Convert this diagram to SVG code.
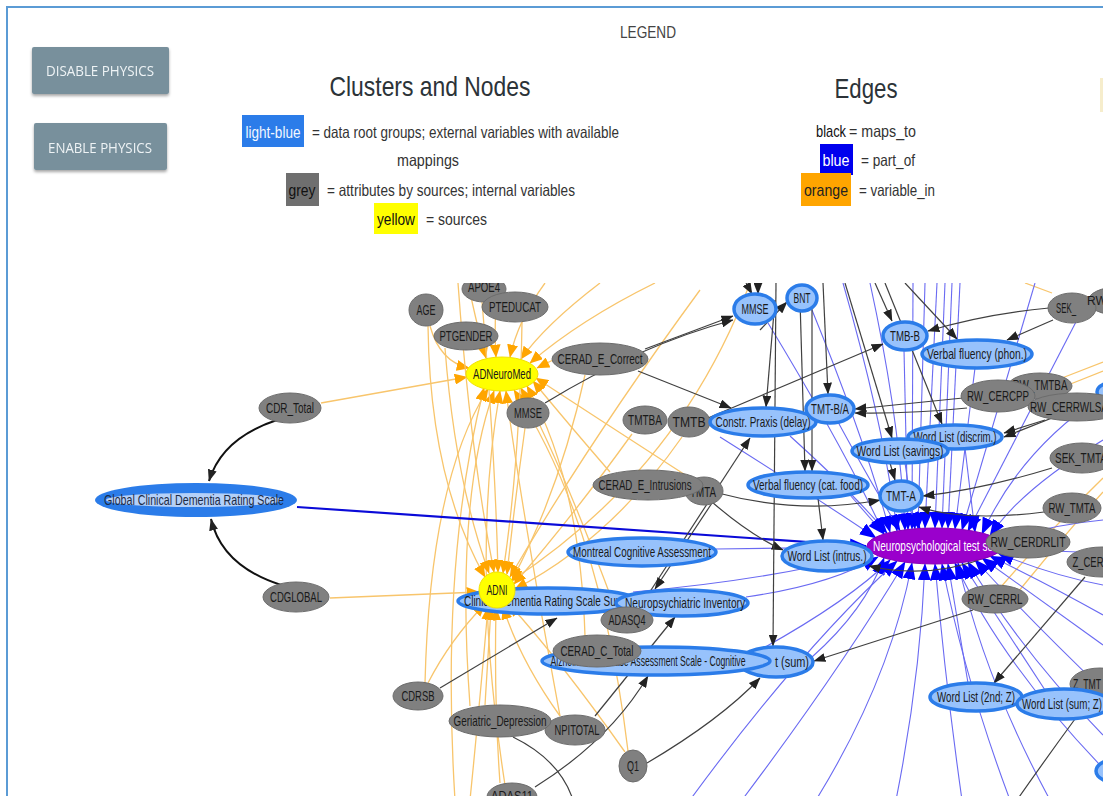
<svg xmlns="http://www.w3.org/2000/svg" width="1103" height="796" viewBox="0 0 1103 796">
<style>
  .ui{font-family:"Liberation Sans",Arial,sans-serif}
  .btn rect{fill:#78909c}
  .btn text{font-family:"Open Sans","Liberation Sans",sans-serif;font-size:14.5px;fill:#eef3f5;text-anchor:middle}
  .lg{font-family:"Liberation Sans",Arial,sans-serif;font-size:16.5px;fill:#333}
  .hd{font-family:"Liberation Sans",Arial,sans-serif;font-size:28px;fill:#2c3338;text-anchor:middle}
  .eo path{fill:none;stroke:#f8c56c;stroke-width:1.3;marker-end:url(#ao)}
  .eo path.na{marker-end:none}
  .eb path{fill:none;stroke:#6a6af2;stroke-width:1.1;marker-end:url(#ab)}
  .eb path.big{stroke:#0a0ad8;stroke-width:2.2}
  .ek path{fill:none;stroke:#404040;stroke-width:1.2;marker-end:url(#ak)}
  .ek path.na{marker-end:none}
  .ek path.th{stroke:#111;stroke-width:2}
  .nd text{font-family:"Liberation Sans",Arial,sans-serif;font-size:14.5px;fill:#1a1a1a;text-anchor:middle}
  .g ellipse{fill:#808080;stroke:#6c6c6c;stroke-width:1}
  .b ellipse{fill:#97c2fc;stroke:#2b7ce9;stroke-width:3.5}
  .y ellipse,.y circle{fill:#ffff00;stroke:#f2e200;stroke-width:1}
  .p ellipse{fill:#9a00cc;stroke:#8a00b8;stroke-width:1}
  .p text{fill:#ffffff}
</style>
<defs>
  <clipPath id="cv"><rect x="8" y="283" width="1095" height="513"/></clipPath>
  <filter id="sh" x="-10%" y="-10%" width="120%" height="130%">
    <feDropShadow dx="0" dy="2" stdDeviation="1.5" flood-color="#000" flood-opacity="0.35"/>
  </filter>
  <marker id="ak" viewBox="0 0 10 10" refX="9.5" refY="5" markerWidth="12" markerHeight="9" markerUnits="userSpaceOnUse" orient="auto" preserveAspectRatio="none"><path d="M0,0 L10,5 L0,10 z" fill="#222"/></marker>
  <marker id="ao" viewBox="0 0 10 10" refX="9.5" refY="5" markerWidth="13" markerHeight="11" markerUnits="userSpaceOnUse" orient="auto" preserveAspectRatio="none"><path d="M0,0 L10,5 L0,10 z" fill="#ffa500"/></marker>
  <marker id="ab" viewBox="0 0 10 10" refX="9.5" refY="5" markerWidth="17" markerHeight="13" markerUnits="userSpaceOnUse" orient="auto" preserveAspectRatio="none"><path d="M0,0 L10,5 L0,10 z" fill="#0000ff"/></marker>
</defs>

<rect width="1103" height="796" fill="#ffffff"/>
<!-- page frame -->
<path d="M7,796 L7,7 L1103,7" fill="none" stroke="#5b9bd5" stroke-width="2"/>

<!-- physics buttons -->
<g id="btn-disable" class="btn" filter="url(#sh)">
  <rect x="32" y="47" width="137" height="47" rx="2"/>
  <text x="100" y="76" textLength="108" lengthAdjust="spacingAndGlyphs">DISABLE PHYSICS</text>
</g>
<g id="btn-enable" class="btn" filter="url(#sh)">
  <rect x="34" y="123" width="133" height="47" rx="2"/>
  <text x="100" y="153" textLength="104" lengthAdjust="spacingAndGlyphs">ENABLE PHYSICS</text>
</g>

<!-- legend -->
<g id="legend">
  <text class="lg" x="648" y="38" text-anchor="middle" style="fill:#444;font-size:16px" textLength="56" lengthAdjust="spacingAndGlyphs">LEGEND</text>
  <text class="hd" x="430" y="96" textLength="201" lengthAdjust="spacingAndGlyphs">Clusters and Nodes</text>
  <rect x="242" y="115" width="62" height="32" fill="#2b7ce9"/>
  <text class="lg" x="273" y="138" text-anchor="middle" style="fill:#f2f7ff;font-size:17px" textLength="55" lengthAdjust="spacingAndGlyphs">light-blue</text>
  <text class="lg" x="312" y="138" textLength="307" lengthAdjust="spacingAndGlyphs">= data root groups; external variables with available</text>
  <text class="lg" x="428" y="166" text-anchor="middle" textLength="62" lengthAdjust="spacingAndGlyphs">mappings</text>
  <rect x="286" y="173" width="33" height="33" fill="#6f6f6f"/>
  <text class="lg" x="302" y="196" text-anchor="middle" style="fill:#111;font-size:17px" textLength="27" lengthAdjust="spacingAndGlyphs">grey</text>
  <text class="lg" x="327" y="196" textLength="248" lengthAdjust="spacingAndGlyphs">= attributes by sources; internal variables</text>
  <rect x="374" y="203" width="44" height="31" fill="#ffff00"/>
  <text class="lg" x="396" y="225" text-anchor="middle" style="fill:#111;font-size:17px" textLength="38" lengthAdjust="spacingAndGlyphs">yellow</text>
  <text class="lg" x="426" y="225" textLength="61" lengthAdjust="spacingAndGlyphs">= sources</text>

  <text class="hd" x="866" y="98" textLength="63" lengthAdjust="spacingAndGlyphs">Edges</text>
  <text class="lg" x="816" y="137" style="fill:#111;font-size:17px" textLength="30" lengthAdjust="spacingAndGlyphs">black</text>
  <text class="lg" x="849" y="137" textLength="67" lengthAdjust="spacingAndGlyphs">= maps_to</text>
  <rect x="820" y="144" width="33" height="31" fill="#0000ee"/>
  <text class="lg" x="836" y="166" text-anchor="middle" style="fill:#ffffff;font-size:17px" textLength="27" lengthAdjust="spacingAndGlyphs">blue</text>
  <text class="lg" x="861" y="166" textLength="54" lengthAdjust="spacingAndGlyphs">= part_of</text>
  <rect x="801" y="173" width="50" height="33" fill="#ffa500"/>
  <text class="lg" x="826" y="196" text-anchor="middle" style="fill:#222;font-size:17px" textLength="44" lengthAdjust="spacingAndGlyphs">orange</text>
  <text class="lg" x="859" y="196" textLength="76" lengthAdjust="spacingAndGlyphs">= variable_in</text>
  <rect x="1100" y="78" width="3" height="34" fill="#f6edcc"/>
</g>

<g id="graph" clip-path="url(#cv)">
<g id="connectors">
  <g id="variable_in" class="eo">
    <path d="M321,403 L467,377"/>
    <path d="M430,326 Q440,362 469,368"/>
    <path d="M468,283 Q478,330 486,358"/>
    <path d="M497,283 Q494,330 496,357"/>
    <path d="M545,283 Q518,320 510,357"/>
    <path d="M600,283 Q545,325 521,359"/>
    <path d="M655,283 Q580,320 530,363"/>
    <path d="M553,360 L537,368"/>
    <path d="M455,800 Q440,560 484,388"/>
    <path d="M425,683 Q430,480 488,389"/>
    <path d="M470,706 Q455,500 494,391"/>
    <path d="M505,785 Q470,560 500,391"/>
    <path d="M560,716 Q520,500 506,391"/>
    <path d="M628,751 Q600,520 514,390"/>
    <path d="M615,608 Q560,460 521,388"/>
    <path d="M585,636 Q580,480 527,386"/>
    <path d="M610,472 Q565,420 533,381"/>
    <path d="M690,478 Q600,420 536,378"/>
    <path d="M428,326 Q430,480 485,577"/>
    <path d="M445,348 Q455,480 489,573"/>
    <path d="M458,283 Q470,450 494,572"/>
    <path d="M482,302 Q495,450 498,572"/>
    <path d="M522,322 Q520,460 503,573"/>
    <path d="M525,428 Q515,500 507,574"/>
    <path d="M700,290 Q590,440 510,577"/>
    <path d="M585,375 Q560,490 512,580"/>
    <path d="M632,434 Q570,520 514,584"/>
    <path d="M682,437 Q610,540 515,589"/>
    <path d="M330,598 L479,592"/>
    <path d="M750,283 Q680,470 511,581"/>
    <path d="M428,683 Q450,640 485,604"/>
    <path d="M485,705 Q488,660 491,608"/>
    <path d="M500,783 Q494,700 496,608"/>
    <path d="M560,716 Q520,660 503,607"/>
    <path d="M625,752 Q560,660 509,604"/>
    <path d="M470,800 Q480,700 488,607"/>
    <path class="na" d="M1025,283 L1052,293"/>
    <path class="na" d="M1062,378 L1103,362"/>
    <path class="na" d="M1068,385 L1103,371"/>
    <path class="na" d="M1000,588 Q1050,530 1103,478"/>
    <path class="na" d="M1018,592 Q1060,540 1103,492"/>
  </g>
  <g id="part_of" class="eb">
    <path d="M768,323 Q845,450 884,534"/>
    <path d="M812,310 Q865,440 890,532"/>
    <path d="M843,283 Q885,430 897,531"/>
    <path d="M870,283 Q900,420 905,530"/>
    <path d="M904,350 L908,529.5"/>
    <path d="M913,283 L912,529"/>
    <path d="M925,283 L918,529"/>
    <path d="M937,283 L925,528"/>
    <path d="M945,283 L935,528"/>
    <path d="M952,283 L942,528"/>
    <path d="M960,283 L948,528"/>
    <path d="M975,368 L955,529"/>
    <path d="M1035,283 L962,530"/>
    <path d="M1078,318 L968,531"/>
    <path d="M965,448 L975,532"/>
    <path d="M905,463 L915,528.8"/>
    <path d="M838,422 Q875,490 900,530.5"/>
    <path d="M790,436 Q850,490 887,533"/>
    <path d="M850,495 L884,534"/>
    <path d="M910,510 L920,528.5"/>
    <path d="M1103,395 Q1020,450 982,534"/>
    <path d="M720,437 Q820,500 876,538"/>
    <path d="M1103,440 Q1020,490 990,536"/>
    <path d="M716,549 L867,547"/>
    <path class="big" d="M297,507 Q600,528 866,546"/>
    <path d="M746,597 Q830,585 878,557"/>
    <path d="M633,592 Q770,580 872,553"/>
    <path d="M812,657 Q865,610 884,558"/>
    <path d="M760,650 Q850,600 890,560"/>
    <path d="M690,800 Q800,650 897,561"/>
    <path d="M742,800 Q840,670 905,562"/>
    <path d="M816,800 Q890,680 912,563"/>
    <path d="M896,800 Q920,680 925,564"/>
    <path d="M962,800 Q945,680 935,564"/>
    <path d="M1010,800 Q965,680 942,564"/>
    <path d="M968,683 L948,564"/>
    <path d="M1045,690 L962,563"/>
    <path d="M1103,735 Q1020,650 968,562"/>
    <path d="M1103,690 Q1030,620 975,560"/>
    <path d="M1103,645 Q1040,600 982,558"/>
    <path d="M1103,615 Q1050,585 990,556"/>
    <path d="M1100,765 Q1000,660 955,563"/>
    <path d="M1050,800 Q985,680 958,563"/>
    <path d="M1103,520 Q1050,525 1002,541"/>
    <path d="M1103,553 L1003,549"/>
    <path d="M1103,585 Q1050,575 998,553"/>
  </g>
  <g id="maps_to" class="ek">
    <path class="th" d="M277,420 Q222,438 209,481"/>
    <path class="th" d="M281,585 Q222,566 211,519"/>
    <path d="M645,349 L733,316"/>
    <path d="M545,403 Q640,345 733,320"/>
    <path d="M638,371 L731,408"/>
    <path d="M708,418 L883,344"/>
    <path d="M1049,308 Q985,314 928,331"/>
    <path d="M1053,320 L1007,340"/>
    <path d="M875,283 L892,321"/>
    <path d="M905,283 L957,339"/>
    <path d="M823,283 L828,394"/>
    <path d="M775,300 L766,407"/>
    <path d="M800,300 L805,471"/>
    <path d="M812,300 L812,471"/>
    <path d="M818,498 L823,540"/>
    <path d="M845,283 L892,438"/>
    <path d="M885,283 L942,424"/>
    <path d="M1045,420 L1004,433"/>
    <path d="M1062,414 L1004,437"/>
    <path d="M963,398 L855,409"/>
    <path d="M967,408 Q910,414 855,413"/>
    <path d="M1052,468 Q980,490 923,496"/>
    <path d="M1044,512 Q965,522 919,507"/>
    <path d="M718,493 Q800,515 880,500"/>
    <path d="M712,502 Q750,535 783,550"/>
    <path d="M890,463 L895,480"/>
    <path d="M990,556 Q930,580 869,566"/>
    <path d="M973,610 Q880,640 814,661"/>
    <path d="M1085,577 L994,683"/>
    <path class="na" d="M1075,719 Q1045,760 1017,800"/>
    <path d="M647,763 Q720,720 760,678"/>
    <path d="M595,716 L675,617"/>
    <path d="M535,787 Q610,740 648,676"/>
    <path d="M440,688 L557,618"/>
    <path class="na" d="M513,737 Q560,760 573,800"/>
    <path d="M640,607 L750,438"/>
    <path d="M712,503 L655,589"/>
    <path d="M776,283 L773,646"/>
    <path d="M746,283 L752,294"/>
    <path d="M758,283 L758,294"/>
    <path d="M760,330 L787,302"/>
  </g>
</g>

<g id="nodes">
  <!-- sources -->
  <g id="n-adneuromed" class="nd y"><ellipse cx="502" cy="374" rx="36" ry="17"/><text x="502" y="379" textLength="58" lengthAdjust="spacingAndGlyphs">ADNeuroMed</text></g>

  <!-- attributes, top left -->
  <g id="n-apoe4" class="nd g"><ellipse cx="484" cy="289" rx="22" ry="13"/><text x="484" y="292" textLength="32" lengthAdjust="spacingAndGlyphs">APOE4</text></g>
  <g id="n-pteducat" class="nd g"><ellipse cx="515" cy="307" rx="33" ry="15"/><text x="515" y="312" textLength="52" lengthAdjust="spacingAndGlyphs">PTEDUCAT</text></g>
  <g id="n-age" class="nd g"><ellipse cx="426" cy="310" rx="17" ry="16"/><text x="426" y="315" textLength="19" lengthAdjust="spacingAndGlyphs">AGE</text></g>
  <g id="n-ptgender" class="nd g"><ellipse cx="466" cy="336" rx="32" ry="14"/><text x="466" y="341" textLength="53" lengthAdjust="spacingAndGlyphs">PTGENDER</text></g>
  <g id="n-cerad-e-correct" class="nd g"><ellipse cx="600" cy="359" rx="48" ry="16"/><text x="600" y="364" textLength="85" lengthAdjust="spacingAndGlyphs">CERAD_E_Correct</text></g>
  <g id="n-mmse-attr" class="nd g"><ellipse cx="528" cy="413" rx="21" ry="15"/><text x="528" y="418" textLength="28" lengthAdjust="spacingAndGlyphs">MMSE</text></g>
  <g id="n-tmtba" class="nd g"><ellipse cx="645" cy="420" rx="22" ry="14"/><text x="645" y="425" textLength="34" lengthAdjust="spacingAndGlyphs">TMTBA</text></g>
  <g id="n-tmtb" class="nd g"><ellipse cx="689" cy="422" rx="21" ry="15"/><text x="689" y="427" textLength="33" lengthAdjust="spacingAndGlyphs">TMTB</text></g>

  <!-- global clinical dementia rating -->
  <g id="n-cdr-total" class="nd g"><ellipse cx="290" cy="408" rx="31" ry="15"/><text x="290" y="413" textLength="48" lengthAdjust="spacingAndGlyphs">CDR_Total</text></g>
  <g id="n-cdglobal" class="nd g"><ellipse cx="296" cy="597" rx="33" ry="15"/><text x="296" y="602" textLength="52" lengthAdjust="spacingAndGlyphs">CDGLOBAL</text></g>
  <g id="n-global-cdr" class="nd">
    <ellipse cx="196" cy="500" rx="101" ry="17" fill="#2b7ce9"/>
    <ellipse cx="194" cy="500" rx="88" ry="7" fill="#b4d0f8"/>
    <text x="194" y="505" style="fill:#1d2b45" textLength="180" lengthAdjust="spacingAndGlyphs">Global Clinical Dementia Rating Scale</text>
  </g>

  <!-- test battery -->
  <g id="n-mmse" class="nd b"><ellipse cx="755" cy="309" rx="21" ry="15"/><text x="755" y="314" textLength="27" lengthAdjust="spacingAndGlyphs">MMSE</text></g>
  <g id="n-bnt" class="nd b"><ellipse cx="802" cy="298" rx="15" ry="13"/><text x="802" y="303" textLength="17" lengthAdjust="spacingAndGlyphs">BNT</text></g>
  <g id="n-tmb-b" class="nd b"><ellipse cx="905" cy="336" rx="22" ry="14"/><text x="905" y="341" textLength="30" lengthAdjust="spacingAndGlyphs">TMB-B</text></g>
  <g id="n-vf-phon" class="nd b"><ellipse cx="977" cy="354" rx="55" ry="14"/><text x="977" y="359" textLength="100" lengthAdjust="spacingAndGlyphs">Verbal fluency (phon.)</text></g>
  <g id="n-rw-right" class="nd g"><ellipse cx="1118" cy="301" rx="30" ry="14"/></g>
  <g id="n-sek" class="nd g"><ellipse cx="1072" cy="308" rx="24" ry="15"/><text x="1066" y="313" textLength="20" lengthAdjust="spacingAndGlyphs">SEK_</text></g>
  <text class="ui" x="1087" y="305" font-size="12" fill="#1a1a1a">RW</text>
  <g id="n-blue-right" class="nd b"><ellipse cx="1125" cy="392" rx="28" ry="12"/></g>
  <g id="n-rw-tmtba" class="nd g"><ellipse cx="1040" cy="386" rx="32" ry="13"/><text x="1040" y="390" textLength="55" lengthAdjust="spacingAndGlyphs">RW_TMTBA</text></g>
  <g id="n-rw-cercpp" class="nd g"><ellipse cx="998" cy="396" rx="37" ry="16"/><text x="998" y="401" textLength="62" lengthAdjust="spacingAndGlyphs">RW_CERCPP</text></g>
  <g id="n-rw-cerrwlsa" class="nd g"><ellipse cx="1077" cy="407" rx="49" ry="14"/><text x="1069" y="412" textLength="78" lengthAdjust="spacingAndGlyphs">RW_CERRWLSA</text></g>
  <g id="n-wl-discrim" class="nd b"><ellipse cx="955" cy="437" rx="47" ry="12"/><text x="955" y="442" textLength="83" lengthAdjust="spacingAndGlyphs">Word List (discrim.)</text></g>
  <g id="n-wl-savings" class="nd b"><ellipse cx="900" cy="451" rx="48" ry="12"/><text x="900" y="456" textLength="87" lengthAdjust="spacingAndGlyphs">Word List (savings)</text></g>
  <g id="n-constr-praxis" class="nd b"><ellipse cx="763" cy="422" rx="53" ry="14"/><text x="763" y="427" textLength="95" lengthAdjust="spacingAndGlyphs">Constr. Praxis (delay)</text></g>
  <g id="n-tmt-ba" class="nd b"><ellipse cx="830" cy="409" rx="24" ry="14"/><text x="830" y="414" textLength="38" lengthAdjust="spacingAndGlyphs">TMT-B/A</text></g>
  <g id="n-sek-tmta" class="nd g"><ellipse cx="1082" cy="458" rx="32" ry="15"/><text x="1081" y="463" textLength="52" lengthAdjust="spacingAndGlyphs">SEK_TMTA</text></g>
  <g id="n-vf-cat" class="nd b"><ellipse cx="808" cy="485" rx="60" ry="13"/><text x="808" y="490" textLength="110" lengthAdjust="spacingAndGlyphs">Verbal fluency (cat. food)</text></g>
  <g id="n-tmt-a" class="nd b"><ellipse cx="901" cy="496" rx="21" ry="15"/><text x="901" y="501" textLength="30" lengthAdjust="spacingAndGlyphs">TMT-A</text></g>
  <g id="n-tmta" class="nd g"><ellipse cx="704" cy="491" rx="19" ry="14"/><text x="703" y="497" textLength="26" lengthAdjust="spacingAndGlyphs">TMTA</text></g>
  <g id="n-cerad-e-intrusions" class="nd g"><ellipse cx="648" cy="485" rx="55" ry="15"/><text x="645" y="490" textLength="93" lengthAdjust="spacingAndGlyphs">CERAD_E_Intrusions</text></g>
  <g id="n-rw-tmta" class="nd g"><ellipse cx="1072" cy="508" rx="29" ry="15"/><text x="1072" y="513" textLength="47" lengthAdjust="spacingAndGlyphs">RW_TMTA</text></g>
  <g id="n-neuropsych" class="nd p"><ellipse cx="935" cy="546" rx="68" ry="18"/><text x="933" y="551" textLength="120" lengthAdjust="spacingAndGlyphs">Neuropsychological test su</text></g>
  <g id="n-rw-cerdrlit" class="nd g"><ellipse cx="1028" cy="542" rx="42" ry="16"/><text x="1028" y="547" textLength="75" lengthAdjust="spacingAndGlyphs">RW_CERDRLIT</text></g>
  <g id="n-z-cer" class="nd g"><ellipse cx="1102" cy="562" rx="35" ry="15"/><text x="1088" y="567" textLength="31" lengthAdjust="spacingAndGlyphs">Z_CER</text></g>
  <g id="n-rw-cerrl" class="nd g"><ellipse cx="995" cy="599" rx="33" ry="14"/><text x="995" y="604" textLength="55" lengthAdjust="spacingAndGlyphs">RW_CERRL</text></g>
  <g id="n-wl-intrus" class="nd b"><ellipse cx="827" cy="556" rx="45" ry="15"/><text x="827" y="561" textLength="79" lengthAdjust="spacingAndGlyphs">Word List (intrus.)</text></g>
  <g id="n-moca" class="nd b"><ellipse cx="642" cy="552" rx="74" ry="14"/><text x="642" y="557" textLength="138" lengthAdjust="spacingAndGlyphs">Montreal Cognitive Assessment</text></g>

  <!-- ADNI cluster -->
  <g id="n-cdr-sum" class="nd b"><ellipse cx="548" cy="601" rx="90" ry="13"/><text x="544" y="606" textLength="160" lengthAdjust="spacingAndGlyphs">Clinical Dementia Rating Scale Sum</text></g>
  <g id="n-npi" class="nd b"><ellipse cx="682" cy="603" rx="66" ry="13"/><text x="685" y="608" textLength="120" lengthAdjust="spacingAndGlyphs">Neuropsychiatric Inventory</text></g>
  <g id="n-adni" class="nd y"><circle cx="497" cy="590" r="18"/><text x="497" y="595" textLength="21" lengthAdjust="spacingAndGlyphs">ADNI</text></g>
  <g id="n-adasq4" class="nd g"><ellipse cx="627" cy="620" rx="26" ry="13"/><text x="627" y="625" textLength="37" lengthAdjust="spacingAndGlyphs">ADASQ4</text></g>
  <g id="n-adas-sum" class="nd b"><ellipse cx="776" cy="662" rx="37" ry="15"/><text x="792" y="667" textLength="34" lengthAdjust="spacingAndGlyphs">t (sum)</text></g>
  <g id="n-adas-cog" class="nd b"><ellipse cx="656" cy="661" rx="114" ry="14"/><text x="648" y="666" textLength="195" lengthAdjust="spacingAndGlyphs">Alzheimer's Disease Assessment Scale - Cognitive</text></g>
  <g id="n-cerad-c-total" class="nd g"><ellipse cx="597" cy="651" rx="44" ry="16"/><text x="597" y="656" textLength="73" lengthAdjust="spacingAndGlyphs">CERAD_C_Total</text></g>
  <g id="n-cdrsb" class="nd g"><ellipse cx="418" cy="696" rx="25" ry="14"/><text x="418" y="701" textLength="33" lengthAdjust="spacingAndGlyphs">CDRSB</text></g>
  <g id="n-npitotal" class="nd g"><ellipse cx="575" cy="730" rx="30" ry="15"/><text x="577" y="735" textLength="45" lengthAdjust="spacingAndGlyphs">NPITOTAL</text></g>
  <g id="n-gds" class="nd g"><ellipse cx="500" cy="721" rx="51" ry="16"/><text x="500" y="726" textLength="93" lengthAdjust="spacingAndGlyphs">Geriatric_Depression</text></g>
  <g id="n-q1" class="nd g"><ellipse cx="633" cy="766" rx="14" ry="16"/><text x="633" y="771" textLength="12" lengthAdjust="spacingAndGlyphs">Q1</text></g>
  <g id="n-adas11" class="nd g"><ellipse cx="512" cy="797" rx="25" ry="14"/><text x="512" y="801" textLength="42" lengthAdjust="spacingAndGlyphs">ADAS11</text></g>

  <!-- z-score group, lower right -->
  <g id="n-wl-2nd" class="nd b"><ellipse cx="976" cy="697" rx="46" ry="14"/><text x="976" y="702" textLength="78" lengthAdjust="spacingAndGlyphs">Word List (2nd; Z)</text></g>
  <g id="n-z-tmt" class="nd g"><ellipse cx="1100" cy="684" rx="30" ry="16"/><text x="1087" y="689" textLength="28" lengthAdjust="spacingAndGlyphs">Z_TMT</text></g>
  <g id="n-wl-sum" class="nd b"><ellipse cx="1064" cy="704" rx="47" ry="15"/><text x="1062" y="709" textLength="80" lengthAdjust="spacingAndGlyphs">Word List (sum; Z)</text></g>
  <g id="n-blue-bottom" class="nd b"><ellipse cx="1122" cy="771" rx="26" ry="13"/></g>
</g>
</g>
</svg>
